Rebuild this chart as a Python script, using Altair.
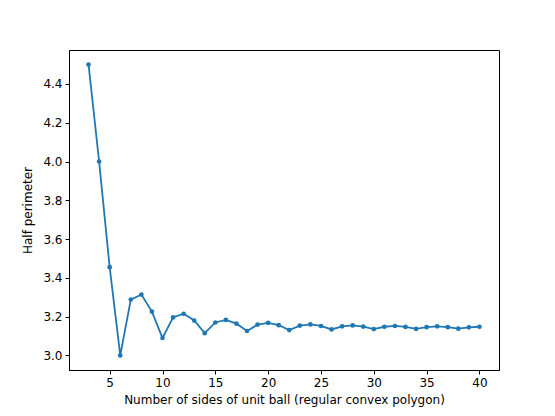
import altair as alt
import pandas as pd

sides = list(range(3, 41))
half_perimeter = [
    4.500, 4.000, 3.455, 3.000, 3.288, 3.314, 3.226, 3.090, 3.196, 3.215,
    3.180, 3.115, 3.170, 3.183, 3.164, 3.126, 3.159, 3.168, 3.156, 3.131,
    3.154, 3.160, 3.152, 3.134, 3.150, 3.155, 3.149, 3.136, 3.148, 3.152,
    3.147, 3.137, 3.146, 3.150, 3.146, 3.138, 3.145, 3.148,
]
x_ticks = [5, 10, 15, 20, 25, 30, 35, 40]
y_ticks = [3.0, 3.2, 3.4, 3.6, 3.8, 4.0, 4.2, 4.4]

df = pd.DataFrame({"n": sides, "p": half_perimeter})

font = "DejaVu Sans"
x = alt.X("n:Q", scale=alt.Scale(domain=[1.15, 41.85], nice=False, zero=False),
          axis=alt.Axis(values=x_ticks, title="Number of sides of unit ball (regular convex polygon)",
                        grid=False, tickSize=4, labelPadding=3, titlePadding=6, format="d"))
y = alt.Y("p:Q", scale=alt.Scale(domain=[2.925, 4.575], nice=False, zero=False),
          axis=alt.Axis(values=y_ticks, title="Half perimeter", format=".1f",
                        grid=False, tickSize=4, labelPadding=3, titlePadding=8))

base = alt.Chart(df)
line = base.mark_line(color="#1f77b4", strokeWidth=1.8).encode(x=x, y=y)
pts = base.mark_circle(color="#1f77b4", size=22, opacity=1).encode(x=x, y=y)

chart = (line + pts).properties(
    width=430, height=320,
    autosize=alt.AutoSizeParams(type="none"),
    padding={"left": 61, "top": 42, "right": 40, "bottom": 38},
).configure_view(stroke="black", strokeWidth=1).configure_axis(
    domainColor="black", tickColor="black", labelColor="black", titleColor="black",
    labelFont=font, titleFont=font, labelFontSize=12, titleFontSize=12,
    titleFontWeight="normal", domainWidth=1, tickWidth=1,
)

chart.save("out.html", embed_options={"renderer": "svg", "actions": False})
